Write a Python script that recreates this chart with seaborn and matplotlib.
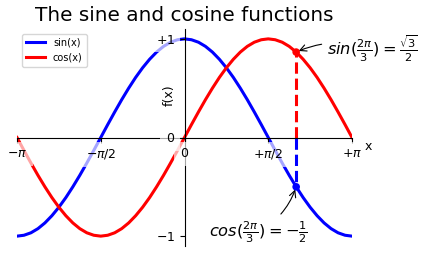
import numpy as np
import pandas as pd
import matplotlib
matplotlib.use("Agg")
import matplotlib.pyplot as plt
import seaborn as sns

# Data (angles -180..180 deg, step 7.5 deg)
x_vals = np.linspace(-np.pi, np.pi, 49)
blue_vals = [-1.000, -0.991, -0.966, -0.924, -0.866, -0.793, -0.707, -0.609, -0.500,
             -0.383, -0.259, -0.131, 0.000, 0.131, 0.259, 0.383, 0.500, 0.609, 0.707,
             0.793, 0.866, 0.924, 0.966, 0.991, 1.000,
             0.991, 0.966, 0.924, 0.866, 0.793, 0.707, 0.609, 0.500, 0.383, 0.259,
             0.131, 0.000, -0.131, -0.259, -0.383, -0.500, -0.609, -0.707, -0.793,
             -0.866, -0.924, -0.966, -0.991, -1.000]
red_vals = [0.000, -0.131, -0.259, -0.383, -0.500, -0.609, -0.707, -0.793, -0.866,
            -0.924, -0.966, -0.991, -1.000, -0.991, -0.966, -0.924, -0.866, -0.793,
            -0.707, -0.609, -0.500, -0.383, -0.259, -0.131, 0.000,
            0.131, 0.259, 0.383, 0.500, 0.609, 0.707, 0.793, 0.866, 0.924, 0.966,
            0.991, 1.000, 0.991, 0.966, 0.924, 0.866, 0.793, 0.707, 0.609, 0.500,
            0.383, 0.259, 0.131, 0.000]
series_labels = ["sin(x)", "cos(x)"]
mark_x = 2 * np.pi / 3
mark_blue = -0.5
mark_red = 0.866
xtick_vals = [-np.pi, -np.pi / 2, 0, np.pi / 2, np.pi]
xtick_labels = [r'$-\pi$', r'$-\pi/2$', r'$0$', r'$+\pi/2$', r'$+\pi$']
ytick_vals = [-1, 0, 1]
ytick_labels = [r'$-1$', r'$0$', r'$+1$']
title = "The sine and cosine functions"

df = pd.DataFrame({"x": x_vals, "blue": blue_vals, "red": red_vals})

fig = plt.figure(figsize=(4.22, 2.56), dpi=100)
ax = fig.add_axes([17 / 422, 10 / 256, 335 / 422, 217 / 256])

sns.lineplot(data=df, x="x", y="blue", color="blue", lw=2.2, label=series_labels[0], ax=ax)
sns.lineplot(data=df, x="x", y="red", color="red", lw=2.2, label=series_labels[1], ax=ax)

ax.set_xlim(-np.pi, np.pi)
ax.set_ylim(-1.1, 1.1)

ax.spines['right'].set_color('none')
ax.spines['top'].set_color('none')
ax.spines['bottom'].set_position(('data', 0))
ax.spines['left'].set_position(('data', 0))
ax.xaxis.set_ticks_position('bottom')
ax.yaxis.set_ticks_position('left')

ax.set_xticks(xtick_vals)
ax.set_xticklabels(xtick_labels)
ax.set_yticks(ytick_vals)
ax.set_yticklabels(ytick_labels)

ax.plot([mark_x, mark_x], [0, mark_blue], color='blue', lw=2.2, ls='--')
sns.scatterplot(x=[mark_x], y=[mark_blue], color='blue', s=30, edgecolor='none', ax=ax, zorder=4)
ax.plot([mark_x, mark_x], [0, mark_red], color='red', lw=2.2, ls='--')
sns.scatterplot(x=[mark_x], y=[mark_red], color='red', s=30, edgecolor='none', ax=ax, zorder=4)

ax.annotate(r'$sin(\frac{2\pi}{3})=\frac{\sqrt{3}}{2}$', xy=(mark_x, mark_red),
            xytext=(31, 3), textcoords='offset pixels', fontsize=11.7, ha='left', va='center',
            arrowprops=dict(arrowstyle="->", connectionstyle="arc3,rad=.2", lw=0.8))
ax.annotate(r'$cos(\frac{2\pi}{3})=-\frac{1}{2}$', xy=(mark_x, mark_blue),
            xytext=(-38, -45), textcoords='offset pixels', fontsize=11.7, ha='center', va='center',
            arrowprops=dict(arrowstyle="->", connectionstyle="arc3,rad=.2", lw=0.8))

ax.set_axisbelow(False)
for label in ax.get_xticklabels() + ax.get_yticklabels():
    label.set_fontsize(9)
    label.set_bbox(dict(facecolor='white', edgecolor='None', alpha=0.65))

ax.set_xlabel("x", fontsize=9)
ax.xaxis.set_label_coords(1.048, 0.49)
ax.set_ylabel("f(x)", fontsize=9)
ax.yaxis.set_label_coords(0.475, 0.696)

ax.set_title(title, fontsize=14.4)
ax.legend(loc='upper left', fontsize=7)

fig.savefig("out.png", dpi=100)
